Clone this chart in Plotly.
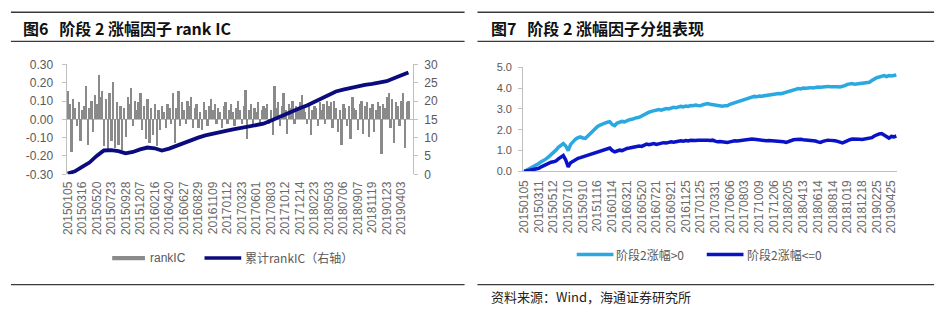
import plotly.graph_objects as go

# ---------------- data: left chart (rank IC) ----------------
left_dates = ["20150105", "20150316", "20150520", "20150723", "20150928", "20151207",
              "20160216", "20160420", "20160627", "20160829", "20161109", "20170112",
              "20170323", "20170601", "20170803", "20171012", "20171214", "20180223",
              "20180503", "20180706", "20180907", "20181119", "20190123", "20190403"]

rank_ic = [
    0.15, 0.08, -0.18, 0.11, 0.06, -0.04, 0.09, -0.12, 0.05, 0.07,
    0.18, -0.14, 0.06, 0.10, -0.07, 0.13, 0.08, 0.24, 0.12, 0.15,
    -0.15, 0.11, -0.17, 0.14, -0.12, 0.20, -0.16, 0.09, -0.14, 0.07,
    -0.17, 0.06, -0.10, 0.12, 0.08, 0.17, -0.04, 0.10, 0.05, 0.09,
    0.14, -0.06, 0.07, -0.11, 0.11, -0.13, 0.06, -0.09, 0.08, -0.15,
    0.05, -0.06, 0.07, 0.04, -0.05, 0.08, 0.06, -0.03, 0.14, -0.13,
    0.06, 0.15, -0.04, 0.09, 0.05, -0.03, 0.10, 0.07, 0.12, -0.05,
    0.06, 0.08, -0.05, 0.04, -0.06, 0.09, 0.05, -0.04, 0.07, 0.11,
    0.05, 0.08, -0.03, 0.06, 0.04, -0.05, 0.07, 0.09, -0.03, 0.05,
    0.08, 0.04, -0.04, 0.06, 0.10, 0.05, -0.03, 0.07, 0.16, -0.11,
    0.05, 0.08, -0.03, 0.06, 0.04, 0.09, -0.02, 0.05, 0.07, 0.06,
    0.08, -0.03, 0.05, -0.09, 0.18, 0.06, 0.09, -0.04, 0.07, 0.14,
    0.05, -0.08, 0.08, 0.06, 0.10, -0.03, 0.07, 0.05, 0.09, 0.13,
    0.06, 0.04, -0.03, 0.08, -0.09, 0.05, 0.07, 0.06, -0.04, 0.09,
    0.05, 0.08, -0.03, 0.10, 0.07, 0.09, -0.05, 0.10, 0.06, -0.07,
    0.05, -0.14, 0.08, 0.06, -0.04, 0.07, -0.11, 0.12, 0.06, 0.05,
    -0.06, 0.08, 0.10, -0.08, 0.07, 0.09, -0.10, 0.06, 0.08, -0.07,
    0.05, 0.09, 0.07, -0.19, 0.08, 0.06, 0.12, 0.14, -0.05, 0.11,
    -0.13, 0.09, 0.07, -0.04, 0.10, 0.14, -0.16, 0.09, 0.10,
]

# cumulative rank IC (right axis), sampled every 4 bars
cum_rank_ic = [
    0.2, 0.8, 2.0, 3.2, 5.0, 6.5, 6.6, 6.3, 5.7, 6.1,
    6.8, 7.3, 7.1, 6.5, 7.0, 7.8, 8.6, 9.3, 10.0, 10.6,
    11.1, 11.6, 11.9, 12.3, 12.7, 13.0, 13.3, 13.8, 14.6, 15.5,
    16.4, 17.2, 18.0, 18.8, 19.7, 20.6, 21.6, 22.6, 23.1, 23.6,
    24.0, 24.4, 24.7, 25.0, 25.4, 26.2, 27.0, 27.8,
]

left_y_ticks = [-0.3, -0.2, -0.1, 0.0, 0.1, 0.2, 0.3]
right_y_ticks = [0, 5, 10, 15, 20, 25, 30]

# ---------------- data: right chart (group performance) ----------------
right_dates = ["20150105", "20150311", "20150512", "20150710", "20150910", "20151116",
               "20160114", "20160321", "20160520", "20160721", "20160921", "20161125",
               "20170125", "20170331", "20170606", "20170803", "20171009", "20171206",
               "20180205", "20180413", "20180614", "20180814", "20181019", "20181218",
               "20190225", "20190425"]

grp_up = [
    0.00, 0.06, 0.13, 0.22, 0.25, 0.30, 0.38, 0.47, 0.52, 0.60,
    0.70, 0.80, 0.92, 1.02, 1.16, 1.25, 1.34, 1.22, 1.00, 1.30,
    1.45, 1.55, 1.62, 1.66, 1.60, 1.58, 1.70, 1.82, 1.90, 2.02,
    2.16, 2.22, 2.28, 2.30, 2.36, 2.39, 2.25, 2.20, 2.32, 2.36,
    2.40, 2.38, 2.45, 2.48, 2.50, 2.55, 2.58, 2.60, 2.66, 2.72,
    2.81, 2.84, 2.88, 2.92, 2.95, 2.97, 2.94, 2.98, 3.02, 3.00,
    3.04, 3.08, 3.06, 3.10, 3.12, 3.10, 3.14, 3.12, 3.16, 3.15,
    3.18, 3.16, 3.15, 3.20, 3.24, 3.26, 3.22, 3.20, 3.17, 3.18,
    3.16, 3.13, 3.15, 3.15, 3.22, 3.26, 3.30, 3.34, 3.38, 3.42,
    3.46, 3.50, 3.54, 3.58, 3.60, 3.58, 3.62, 3.61, 3.63, 3.64,
    3.66, 3.70, 3.68, 3.72, 3.74, 3.73, 3.76, 3.80, 3.86, 3.88,
    3.91, 3.94, 3.98, 3.96, 4.00, 3.99, 4.01, 4.02, 4.00, 4.03,
    4.05, 4.04, 4.06, 4.07, 4.08, 4.06, 4.07, 4.09, 4.06, 4.05,
    4.07, 4.12, 4.18, 4.20, 4.22, 4.18, 4.20, 4.22, 4.21, 4.24,
    4.25, 4.28, 4.36, 4.44, 4.50, 4.53, 4.56, 4.60, 4.55, 4.60,
    4.58, 4.62, 4.63,
]

grp_down = [
    0.00, 0.02, 0.05, 0.07, 0.09, 0.12, 0.15, 0.22, 0.28, 0.34,
    0.40, 0.44, 0.46, 0.50, 0.60, 0.68, 0.76, 0.55, 0.22, 0.42,
    0.50, 0.58, 0.63, 0.66, 0.70, 0.74, 0.78, 0.80, 0.86, 0.90,
    0.93, 0.98, 1.04, 1.08, 1.10, 1.12, 1.00, 0.94, 0.98, 1.02,
    1.00, 1.06, 1.10, 1.12, 1.15, 1.16, 1.18, 1.22, 1.20, 1.26,
    1.31, 1.28, 1.32, 1.34, 1.30, 1.33, 1.34, 1.38, 1.36, 1.40,
    1.42, 1.40, 1.44, 1.45, 1.47, 1.45, 1.48, 1.46, 1.49, 1.47,
    1.48, 1.50, 1.51, 1.49, 1.52, 1.50, 1.48, 1.50, 1.45, 1.42,
    1.44, 1.41, 1.38, 1.39, 1.42, 1.45, 1.47, 1.46, 1.48, 1.50,
    1.52, 1.51, 1.53, 1.55, 1.54, 1.52, 1.50, 1.49, 1.48, 1.47,
    1.48, 1.47, 1.46, 1.48, 1.47, 1.44, 1.42, 1.39, 1.44, 1.48,
    1.52, 1.53, 1.55, 1.54, 1.52, 1.51, 1.50, 1.52, 1.50, 1.46,
    1.42, 1.39, 1.44, 1.48, 1.50, 1.49, 1.50, 1.47, 1.44, 1.40,
    1.37, 1.42, 1.48, 1.52, 1.55, 1.56, 1.56, 1.54, 1.53, 1.55,
    1.54, 1.56, 1.62, 1.70, 1.76, 1.80, 1.82, 1.75, 1.65, 1.60,
    1.68, 1.66, 1.70,
]

grp_y_ticks = [0, 1, 2, 3, 4, 5]

# ---------------- geometry helpers ----------------
W, H = 941, 318
def px(x):
    return x / W
def py(y):
    return 1 - y / H

LEFT_STEP = 8    # bars between left date labels
RIGHT_STEP = 6   # points between right date labels
CUM_STEP = 4

GREY_TXT = "#595959"
AXIS_C = "#bfbfbf"
BAR_C = "#8a8a8a"
NAVY = "#0b0b7e"
LIGHT = "#2aa9e0"
DARK = "#0a12c8"
TICK_FONT = dict(family="Liberation Sans, Arial, sans-serif", size=12, color=GREY_TXT)
XTICK_FONT = dict(family="Liberation Sans, Arial, sans-serif", size=12, color="#6a6a6a")

fig = go.Figure()

fig.add_trace(go.Bar(
    x=list(range(len(rank_ic))), y=rank_ic, marker_color=BAR_C, marker_line_width=0,
    name="rankIC", xaxis="x", yaxis="y", showlegend=False,
))
fig.add_trace(go.Scatter(
    x=list(range(0, CUM_STEP * len(cum_rank_ic), CUM_STEP)), y=cum_rank_ic, mode="lines",
    line=dict(color=NAVY, width=3.8), name="累计rankIC（右轴）",
    xaxis="x", yaxis="y2", showlegend=False,
))
fig.add_trace(go.Scatter(
    x=list(range(len(grp_up))), y=grp_up, mode="lines",
    line=dict(color=LIGHT, width=3.5), name="阶段2涨幅>0",
    xaxis="x3", yaxis="y3", showlegend=False,
))
fig.add_trace(go.Scatter(
    x=list(range(len(grp_down))), y=grp_down, mode="lines",
    line=dict(color=DARK, width=3.5), name="阶段2涨幅<=0",
    xaxis="x3", yaxis="y3", showlegend=False,
))

fig.update_layout(
    width=W, height=H, margin=dict(l=0, r=0, t=0, b=0),
    paper_bgcolor="white", plot_bgcolor="white",
    bargap=0.0,
    xaxis=dict(
        domain=[px(61), px(410)], range=[-0.6, 190.5],
        tickvals=[i * LEFT_STEP for i in range(len(left_dates))], ticktext=left_dates,
        tickangle=-90, tickfont=XTICK_FONT, showgrid=False, zeroline=False,
        showline=False, ticks="", anchor="y", ticklabelstandoff=4,
    ),
    yaxis=dict(
        domain=[py(175), py(60)], range=[-0.3, 0.3],
        tickvals=left_y_ticks, ticktext=[f"{v:.2f}" for v in left_y_ticks],
        tickfont=TICK_FONT, showgrid=False, zeroline=True, zerolinecolor=AXIS_C,
        zerolinewidth=1, showline=True, linecolor=AXIS_C, linewidth=1,
        ticks="outside", ticklen=4, tickcolor=AXIS_C, anchor="x",
        ticklabelstandoff=6,
    ),
    yaxis2=dict(
        overlaying="y", side="right", range=[0, 30],
        tickvals=right_y_ticks, ticktext=[str(v) for v in right_y_ticks],
        tickfont=TICK_FONT, showgrid=False, zeroline=False,
        showline=True, linecolor=AXIS_C, linewidth=1,
        ticks="outside", ticklen=4, tickcolor=AXIS_C, anchor="x",
        ticklabelstandoff=4,
    ),
    xaxis3=dict(
        domain=[px(521), px(898)], range=[-0.4, 152.4],
        tickvals=[i * RIGHT_STEP for i in range(len(right_dates))], ticktext=right_dates,
        tickangle=-90, tickfont=XTICK_FONT, showgrid=False, zeroline=False,
        showline=True, linecolor=AXIS_C, linewidth=1, ticks="", anchor="y3",
        ticklabelstandoff=3,
    ),
    yaxis3=dict(
        domain=[py(172), py(63)], range=[0, 5],
        tickvals=grp_y_ticks, ticktext=[f"{v:.1f}" for v in grp_y_ticks],
        tickfont=dict(family="Liberation Sans, Arial, sans-serif", size=11, color=GREY_TXT),
        showgrid=False, zeroline=False, showline=True, linecolor=AXIS_C, linewidth=1,
        ticks="outside", ticklen=4, tickcolor=AXIS_C, anchor="x3",
        ticklabelstandoff=4,
    ),
)

shapes = []
# rules around titles and at bottom
for (x0, x1) in [(5, 462), (475, 935)]:
    for yy in (5.5, 36, 290.5):
        shapes.append(dict(type="line", xref="paper", yref="paper",
                           x0=px(x0), x1=px(x1), y0=py(yy), y1=py(yy),
                           line=dict(color="#3a3a3a", width=1.3)))
# custom legend markers
shapes.append(dict(type="rect", xref="paper", yref="paper", x0=px(107), x1=px(140),
                   y0=py(265), y1=py(260.5), fillcolor=BAR_C, line=dict(width=0)))
shapes.append(dict(type="line", xref="paper", yref="paper", x0=px(200), x1=px(237),
                   y0=py(262.5), y1=py(262.5), line=dict(color=NAVY, width=3.5)))
shapes.append(dict(type="line", xref="paper", yref="paper", x0=px(575), x1=px(612),
                   y0=py(259), y1=py(259), line=dict(color=LIGHT, width=3.5)))
shapes.append(dict(type="line", xref="paper", yref="paper", x0=px(706), x1=px(743),
                   y0=py(259), y1=py(259), line=dict(color=DARK, width=3.5)))
fig.update_layout(shapes=shapes)

CJK = "Noto Sans CJK SC, sans-serif"
ann = []
def text(x, y, s, size, color, family=CJK):
    ann.append(dict(xref="paper", yref="paper", x=px(x), y=py(y), text=s,
                    showarrow=False, xanchor="left", yanchor="middle",
                    font=dict(family=family, size=size, color=color)))

text(15, 22, "<b>图6\u00a0\u00a0 阶段 2 涨幅因子 rank IC</b>", 16, "#111111")
text(487, 22, "<b>图7\u00a0\u00a0 阶段 2 涨幅因子分组表现</b>", 16, "#111111")
text(143, 262.5, "rankIC", 12, GREY_TXT, "Liberation Sans, Arial, sans-serif")
text(239, 262.5, "累计rankIC（右轴）", 12, GREY_TXT)
text(613, 259, "阶段2涨幅>0", 12, GREY_TXT)
text(745, 259, "阶段2涨幅<=0", 12, GREY_TXT)
text(487, 303, "资料来源：Wind，海通证券研究所", 13, "#222222")
fig.update_layout(annotations=ann)

fig.write_html("out.html")
